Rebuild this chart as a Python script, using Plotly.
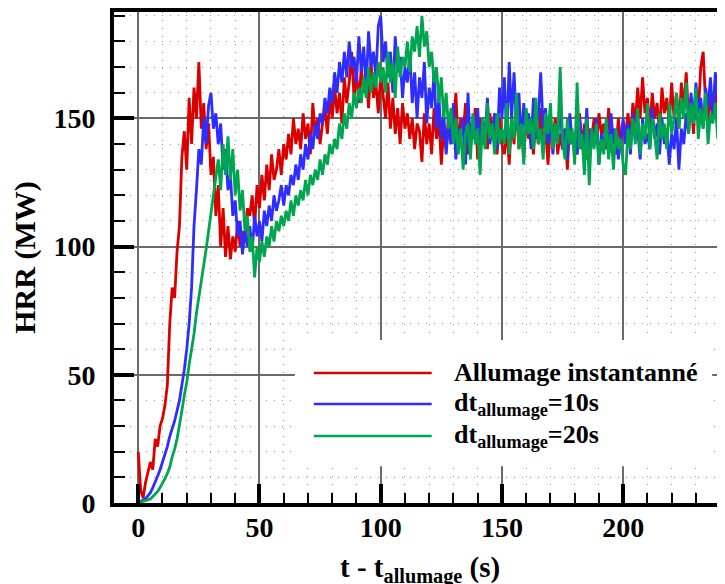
import plotly.graph_objects as go

# ---- data (HRR in MW, sampled every second from t - t_allumage = 0 s) ----
hrr_instant = [
    20, 5, 2, 8, 12, 16, 13, 25, 22, 30,
    33, 38, 46, 70, 84, 80, 98, 108, 135,
    145, 130, 158, 140, 162, 150, 172, 146, 156, 138, 148, 128, 135, 112, 124, 100, 115,
    96, 108, 95, 104, 98, 110, 100, 106, 103, 115,
    112, 120, 108, 124, 115, 128, 118, 132, 122, 136, 126, 130, 138, 128, 140,
    134, 144, 136, 150, 140, 146, 138, 152, 142, 148, 136, 156, 144, 150, 140,
    148, 154, 144, 158, 150, 162, 152, 160, 148, 166, 156, 164, 176, 158, 168,
    156, 170, 160, 166, 154, 172, 158, 164, 152, 168,
    160, 150, 164, 146, 158, 144, 154, 140, 156, 146, 152, 142, 150, 138, 148,
    145, 133, 152, 140, 148, 136, 154, 142, 150, 132, 146, 138, 152, 140, 148,
    160, 138, 150, 144, 156, 136, 148, 142, 154, 134, 150, 140, 146, 138, 152, 144, 148, 136, 150, 140,
    136, 146, 132, 150, 140, 156, 138, 148, 134, 152, 142, 146, 136, 150, 140, 154, 138, 146, 132, 148,
    142, 150, 136, 144, 138,
    146, 130, 150, 140, 144, 136, 152, 138, 148, 134, 146, 142, 150, 140, 152, 144, 148, 138, 154, 142,
    146, 136, 150, 140, 148,
    144, 152, 142, 156, 148, 162, 150, 166, 152, 158, 146, 160, 150, 156, 144, 162, 152, 158, 148, 164,
    150, 160, 146, 164, 154, 168, 150, 158, 144, 162, 152, 170, 176, 156, 148, 160, 150, 164, 146, 158,
    152, 160,
]

hrr_dt10 = [
    0, 0.5, 1, 1.8, 2.8, 4, 6, 8, 10.5, 13, 16, 19, 22, 26, 29, 32, 36, 40, 46, 52, 60,
    70, 84, 108, 122, 138, 132, 150, 140, 155, 160, 146, 152,
    140, 148, 130, 138, 122, 128, 112, 118, 104, 110, 97, 106, 100,
    108, 98, 112, 104, 110, 102, 114, 108, 116, 110, 120, 114, 118, 124, 116,
    124, 120, 128, 124, 132, 126, 136, 130, 140, 134, 144, 138, 148, 142, 152,
    148, 158, 152, 162, 156, 168, 160, 172, 164, 176, 166, 180, 170, 174, 164, 182, 168, 178, 162, 184,
    170, 176, 166, 186, 190,
    172, 180, 166, 176, 160, 182, 168, 174, 158, 170, 164, 176, 156, 168, 150, 166, 158, 172, 148, 162,
    154, 168, 146, 158, 142,
    152, 136, 148, 140, 156, 134, 146, 142, 150, 132, 160, 138, 148, 144, 154, 136, 150, 142, 158, 140,
    146, 152, 138, 162, 150,
    166, 142, 172, 150, 168, 146, 160, 140, 156, 144, 152, 138, 158, 142, 150,
    168, 146, 154, 140, 150, 136, 148, 142, 158, 138, 146, 134, 152, 140, 144, 136, 150, 142, 138, 154,
    134, 146, 140, 150, 132, 144, 138, 148, 136, 152, 140, 146, 134, 142, 150,
    140, 148, 136, 152, 142, 146, 134, 150, 140, 144, 138, 154, 142, 148, 136, 150, 140, 146, 132, 144,
    138, 150, 130, 146, 140,
    152, 144, 160, 148, 164, 152, 158, 146, 162, 154, 166, 150, 168, 158, 164, 156, 162,
]

hrr_dt20 = [
    0, 0.3, 0.6, 0.9, 1.2, 1.6, 2.5, 3.5, 4.5, 6, 7.5, 9.5, 11.5, 14, 18, 21, 25, 30, 36, 42,
    47, 54, 60, 66, 74, 80, 86, 92, 99, 106, 113, 119, 126,
    134, 122, 140, 128, 143, 126, 138, 120, 130, 114, 122, 106, 112,
    98, 104, 88, 100, 94, 102, 96, 104, 100, 108, 102, 110, 106, 112, 108,
    114, 110, 118, 112, 120, 116, 122, 118, 126, 120, 128, 124, 130, 126, 134, 128, 136, 132, 140, 136,
    142, 138, 148, 142, 152, 146, 156, 150, 160, 154, 162, 156, 166, 158, 170, 160, 168, 162, 172, 164,
    170, 160, 176, 164, 172, 158, 178, 166, 174, 170, 180, 168, 182, 176, 186, 174, 190, 178, 184, 170,
    176, 164, 170, 156, 166, 150, 160, 146, 154, 140, 150, 136, 146, 130, 144,
    148, 134, 152, 140, 146, 128, 150, 138, 156, 142, 148, 136, 152, 140, 146,
    140, 156, 136, 150, 142, 160, 138, 148, 132, 154, 144, 150, 138, 158, 140, 146, 134, 152, 144, 156,
    138, 148, 140, 170, 142, 134, 150, 140, 146, 132, 164, 138, 144, 128, 150, 124, 146, 138, 148, 132,
    142, 136, 150, 134, 144, 130, 146, 138, 142, 132,
    128, 146, 138, 150, 140, 154, 136, 148, 142, 156, 138, 150, 144, 134, 152, 142, 148, 138, 156, 144,
    150, 160, 146, 158, 150, 164, 144, 156, 148, 162, 142, 154, 146, 160, 140, 152, 148, 156, 142, 150,
    138, 144,
]

series_names = ["Allumage instantanné", "dt<sub>allumage</sub>=10s", "dt<sub>allumage</sub>=20s"]
series_values = [hrr_instant, hrr_dt10, hrr_dt20]
series_colors = ["rgb(218,0,0)", "rgb(45,45,255)", "rgb(0,165,80)"]

x_ticks = [0, 50, 100, 150, 200]
y_ticks = [0, 50, 100, 150]

FONT = "Liberation Serif, Times New Roman, serif"

fig = go.Figure()
for name, vals, col in zip(series_names, series_values, series_colors):
    fig.add_trace(go.Scatter(
        x=list(range(len(vals))), y=vals, mode="lines", name=name,
        line=dict(color=col, width=2.8), showlegend=False,
    ))

# custom legend (long line samples, white background)
fig.add_shape(type="rect", xref="paper", yref="paper", x0=0.296, x1=0.979, y0=0.075, y1=0.332,
              fillcolor="white", line=dict(width=0), layer="above")
leg_y = [0.265, 0.2016, 0.1365]
for name, col, yy in zip(series_names, series_colors, leg_y):
    fig.add_shape(type="line", xref="paper", yref="paper", x0=0.327, x1=0.520, y0=yy, y1=yy,
                  line=dict(color=col, width=2.5), layer="above")
    fig.add_annotation(xref="paper", yref="paper", x=0.553, y=yy, text="<b>" + name + "</b>",
                       showarrow=False, xanchor="left", yanchor="middle",
                       font=dict(family=FONT, size=26, color="black"))

# x-axis title as an annotation so it can sit a little lower
fig.add_annotation(xref="paper", yref="paper", x=0.5, y=0, yanchor="top", yshift=-46,
                   text="<b>t - t<sub>allumage</sub> (s)</b>", showarrow=False,
                   font=dict(family=FONT, size=29, color="black"))

# page body has an 8px margin: figure is sized/offset to fit the 725x584 window
fig.update_layout(
    width=717, height=576,
    margin=dict(l=106, r=0, t=4, b=81),
    paper_bgcolor="white", plot_bgcolor="white",
    font=dict(family=FONT, color="black"),
)
fig.update_xaxes(
    range=[-10, 242], tickvals=x_ticks, ticks="inside", ticklen=19, tickwidth=3.5, tickcolor="black",
    showline=True, linewidth=4, linecolor="black", mirror=True, zeroline=False, automargin=False,
    showgrid=True, gridcolor="#6a6a6a", gridwidth=1.5,
    minor=dict(dtick=10, tick0=0, ticks="inside", ticklen=10, tickwidth=2, tickcolor="black",
               showgrid=True, gridcolor="#9a9a9a", gridwidth=1, griddash="1px,7px"),
    tickfont=dict(family=FONT, size=28, weight="bold"), ticklabelstandoff=-4,
)
fig.update_yaxes(
    range=[0, 191.5], tickvals=y_ticks, ticks="inside", ticklen=20, tickwidth=3.5, tickcolor="black",
    showline=True, linewidth=4, linecolor="black", mirror=False, zeroline=False, automargin=False,
    showgrid=True, gridcolor="#6a6a6a", gridwidth=1.5,
    minor=dict(dtick=10, tick0=0, ticks="inside", ticklen=11, tickwidth=2, tickcolor="black",
               showgrid=True, gridcolor="#9a9a9a", gridwidth=1, griddash="1px,7px"),
    tickfont=dict(family=FONT, size=28, weight="bold"), ticklabelstandoff=9,
    title=dict(text="<b>HRR (MW)</b>", font=dict(family=FONT, size=30), standoff=30),
)

fig.write_html("out.html")
